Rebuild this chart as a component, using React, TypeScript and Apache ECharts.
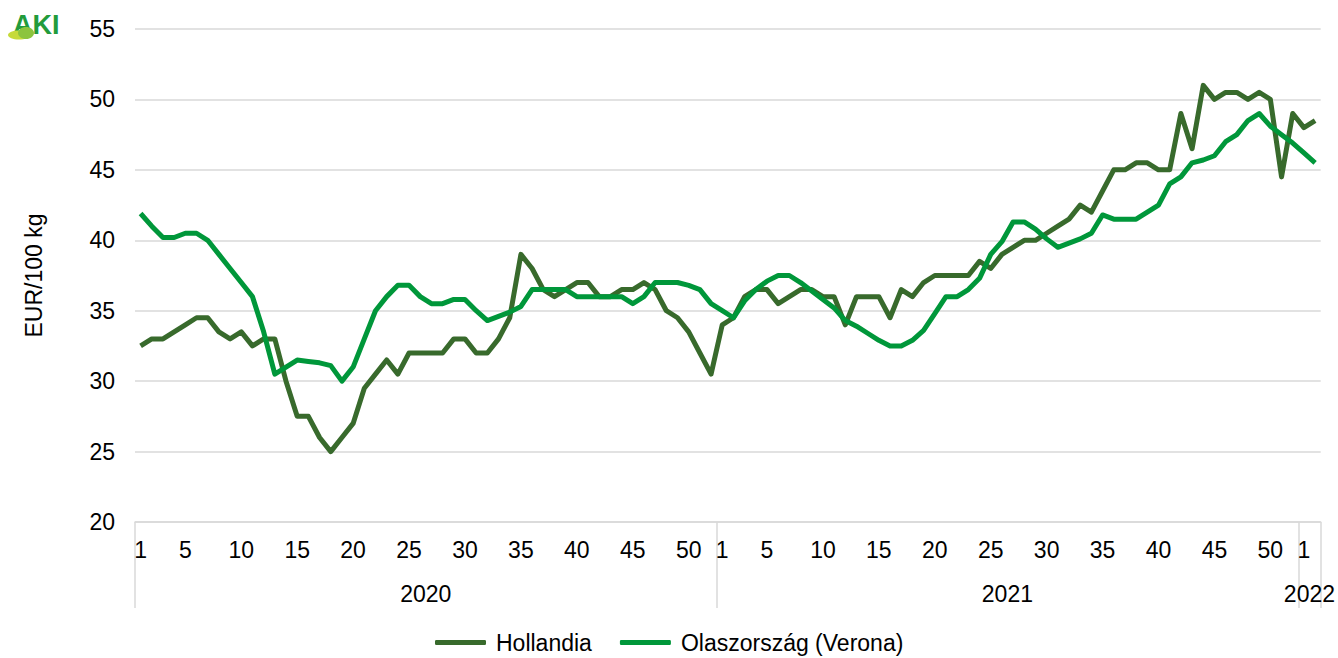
import React, { useEffect, useRef } from 'react';
import * as echarts from 'echarts';

const years = ['2020', '2021', '2022'];
const weeksPerYear = [52, 52, 2];
const shownWeeks = [1, 5, 10, 15, 20, 25, 30, 35, 40, 45, 50];
const yMin = 20;
const yMax = 55;
const yStep = 5;

const hollandia = [
  // 2020
  32.5, 33, 33, 33.5, 34, 34.5, 34.5, 33.5, 33, 33.5,
  32.5, 33, 33, 30, 27.5, 27.5, 26, 25, 26, 27,
  29.5, 30.5, 31.5, 30.5, 32, 32, 32, 32, 33, 33,
  32, 32, 33, 34.5, 39, 38, 36.5, 36, 36.5, 37,
  37, 36, 36, 36.5, 36.5, 37, 36.5, 35, 34.5, 33.5,
  32, 30.5,
  // 2021
  34, 34.5, 36, 36.5, 36.5, 35.5, 36, 36.5, 36.5, 36,
  36, 34, 36, 36, 36, 34.5, 36.5, 36, 37, 37.5,
  37.5, 37.5, 37.5, 38.5, 38, 39, 39.5, 40, 40, 40.5,
  41, 41.5, 42.5, 42, 43.5, 45, 45, 45.5, 45.5, 45,
  45, 49, 46.5, 51, 50, 50.5, 50.5, 50, 50.5, 50,
  44.5, 49,
  // 2022
  48, 48.5,
];

const olaszorszag = [
  // 2020
  41.9, 41, 40.2, 40.2, 40.5, 40.5, 40, 39, 38, 37,
  36, 33.5, 30.5, 31, 31.5, 31.4, 31.3, 31.1, 30, 31,
  33, 35, 36, 36.8, 36.8, 36, 35.5, 35.5, 35.8, 35.8,
  35, 34.3, 34.6, 34.9, 35.3, 36.5, 36.5, 36.5, 36.5, 36,
  36, 36, 36, 36, 35.5, 36, 37, 37, 37, 36.8,
  36.5, 35.5,
  // 2021
  35, 34.5, 35.7, 36.5, 37.1, 37.5, 37.5, 37, 36.4, 35.8,
  35.2, 34.3, 33.9, 33.4, 32.9, 32.5, 32.5, 32.9, 33.6, 34.8,
  36, 36, 36.5, 37.3, 39, 39.9, 41.3, 41.3, 40.8, 40.1,
  39.5, 39.8, 40.1, 40.5, 41.8, 41.5, 41.5, 41.5, 42, 42.5,
  44, 44.5, 45.5, 45.7, 46, 47, 47.5, 48.5, 49, 48.1,
  47.5, 46.9,
  // 2022
  46.2, 45.5,
];

const categories: string[] = [];
const yearStarts: number[] = [];
const yearLabelIdx: Record<number, string> = {};
years.forEach((y, i) => {
  yearStarts.push(categories.length);
  yearLabelIdx[categories.length + Math.floor(weeksPerYear[i] / 2) - 1] = y;
  for (let w = 1; w <= weeksPerYear[i]; w++) categories.push(`${y}-${w}`);
});

const FONT = '"Liberation Sans", Arial, sans-serif';
const FS = 23;
const DARK = '#386a2c';
const BRIGHT = '#00973a';
const GRID = '#d9d9d9';

export default function App() {
  const ref = useRef<HTMLDivElement>(null);
  useEffect(() => {
    if (!ref.current) return;
    const chart = echarts.init(ref.current, undefined, { renderer: 'svg' });
    chart.setOption({
      animation: false,
      textStyle: { fontFamily: FONT },
      grid: { left: 135, right: 17, top: 29, bottom: 136, containLabel: false },
      graphic: [
        {
          type: 'text', left: 13, top: 11,
          style: { text: 'AKI', fill: '#229b3c', fontSize: 27, fontWeight: 'bold', fontFamily: FONT },
        },
        { type: 'ellipse', shape: { cx: 19, cy: 35, rx: 11, ry: 4.5 }, style: { fill: '#c6da3a' } },
        { type: 'ellipse', shape: { cx: 26, cy: 33, rx: 8, ry: 6 }, style: { fill: '#8cc43e' } },
      ],
      legend: {
        top: 626,
        left: 430,
        icon: 'roundRect',
        itemWidth: 51,
        itemHeight: 5,
        itemGap: 28,
        textStyle: { fontSize: FS, color: '#000', fontFamily: FONT, padding: [0, 0, 0, 5] },
        data: ['Hollandia', 'Olaszország (Verona)'],
      },
      xAxis: [
        {
          type: 'category',
          data: categories,
          position: 'bottom',
          boundaryGap: true,
          axisLine: { show: true, lineStyle: { color: GRID, width: 1.5 } },
          axisTick: {
            show: true,
            interval: (i: number) => yearStarts.includes(i),
            length: 86,
            lineStyle: { color: GRID, width: 1.5 },
          },
          axisLabel: {
            interval: 0,
            margin: 16,
            fontSize: FS,
            color: '#000',
            fontFamily: FONT,
            formatter: (v: string) => {
              const w = Number(v.split('-')[1]);
              return shownWeeks.includes(w) ? String(w) : '';
            },
          },
          splitLine: { show: false },
        },
        {
          type: 'category',
          data: categories,
          position: 'bottom',
          boundaryGap: true,
          axisLine: { show: false },
          axisTick: { show: false },
          axisLabel: {
            interval: 0,
            margin: 60,
            fontSize: FS,
            color: '#000',
            fontFamily: FONT,
            formatter: (_v: string, i: number) => (yearLabelIdx[i] ? `{y|${yearLabelIdx[i]}}` : ''),
            rich: { y: { fontSize: FS, color: '#000', fontFamily: FONT, padding: [0, 0, 0, 11] } },
          },
        },
      ],
      yAxis: {
        type: 'value',
        min: yMin,
        max: yMax,
        interval: yStep,
        name: 'EUR/100 kg',
        nameLocation: 'middle',
        nameGap: 90,
        nameTextStyle: { fontSize: FS, color: '#000', fontFamily: FONT },
        axisLine: { show: false },
        axisTick: { show: false },
        axisLabel: { fontSize: FS, color: '#000', margin: 20, fontFamily: FONT },
        splitLine: { lineStyle: { color: GRID, width: 1.5 } },
      },
      series: [
        {
          name: 'Hollandia',
          type: 'line',
          data: hollandia,
          symbol: 'none',
          itemStyle: { color: DARK },
          lineStyle: { color: DARK, width: 5, join: 'round' },
        },
        {
          name: 'Olaszország (Verona)',
          type: 'line',
          data: olaszorszag,
          symbol: 'none',
          itemStyle: { color: BRIGHT },
          lineStyle: { color: BRIGHT, width: 5, join: 'round' },
        },
      ],
    });
    return () => chart.dispose();
  }, []);
  return <div ref={ref} style={{ width: 1338, height: 658, position: 'absolute', left: 0, top: 0 }} />;
}
